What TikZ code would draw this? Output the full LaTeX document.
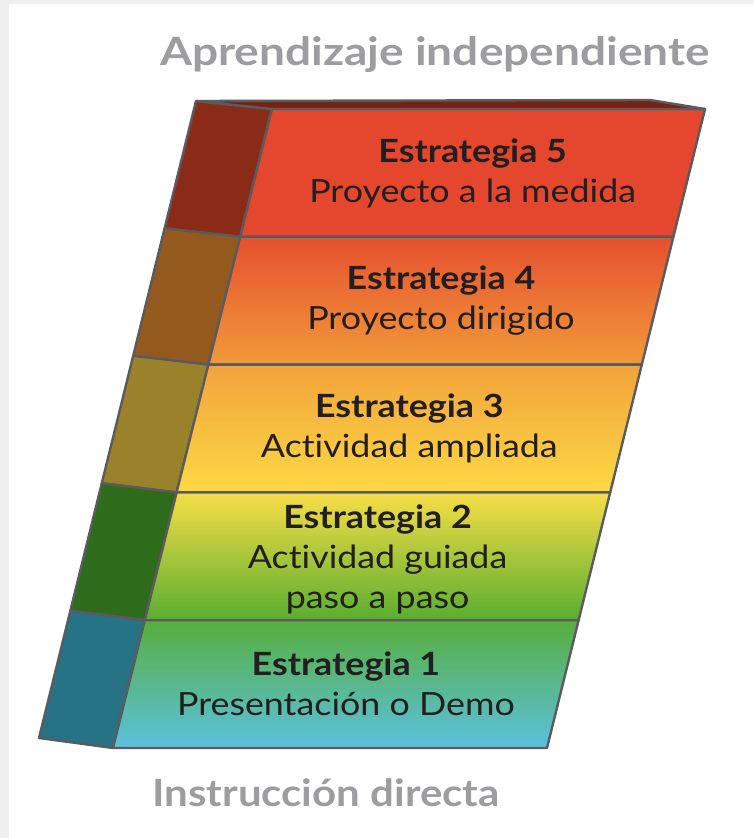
\documentclass[tikz,border=0pt]{standalone}
\usepackage{fontspec}
\setmainfont{Lato}[FakeStretch=1.12,RawFeature={-liga;-dlig}]
\usetikzlibrary{calc}

\definecolor{bggray}{HTML}{EFEFEF}
\definecolor{linecol}{HTML}{5B5B5F}
\definecolor{txtcol}{HTML}{231F20}
\definecolor{titlecol}{HTML}{9C9CA1}
\definecolor{topface}{HTML}{7A2212}
\definecolor{sidefive}{HTML}{8A2B17}
\definecolor{sidefour}{HTML}{945A1D}
\definecolor{sidethree}{HTML}{9A822B}
\definecolor{sidetwo}{HTML}{2E6B1B}
\definecolor{sideone}{HTML}{277386}

\begin{document}
\begin{tikzpicture}[x=1pt,y=-1pt,
  face/.style={draw=linecol,line width=2.4pt,line join=round},
  rowtext/.style={align=center,text=txtcol,font=\fontsize{32}{40}\selectfont},
  headtext/.style={text=titlecol,font=\fontsize{37.5}{44}\selectfont\bfseries}]

\useasboundingbox (0,0) rectangle (753,838);
\fill[bggray] (0,0) rectangle (753,838);
\fill[white] (9,4) rectangle (753,838);

% outer edge of the side
\coordinate (s0) at (196,101);
\coordinate (s1) at (164.6,228.4);
\coordinate (s2) at (133.2,355.8);
\coordinate (s3) at (101.8,483.2);
\coordinate (s4) at (70.4,610.6);
\coordinate (s5) at (39,738);
% front, left edge
\coordinate (l0) at (272,109);
\coordinate (l1) at (240.2,236.8);
\coordinate (l2) at (208.4,364.6);
\coordinate (l3) at (176.6,492.4);
\coordinate (l4) at (144.8,620.2);
\coordinate (l5) at (113,748);
% front, right edge
\coordinate (r0) at (705,109);
\coordinate (r1) at (673.4,236.8);
\coordinate (r2) at (641.8,364.6);
\coordinate (r3) at (610.2,492.4);
\coordinate (r4) at (578.6,620.2);
\coordinate (r5) at (547,748);
\coordinate (b0) at (650,100);

% side
\draw[face,fill=sidefive] (s0)--(s1)--(l1)--(l0)--cycle;
\draw[face,fill=sidefour] (s1)--(s2)--(l2)--(l1)--cycle;
\draw[face,fill=sidethree] (s2)--(s3)--(l3)--(l2)--cycle;
\draw[face,fill=sidetwo] (s3)--(s4)--(l4)--(l3)--cycle;
\draw[face,fill=sideone] (s4)--(s5)--(l5)--(l4)--cycle;

% front
\draw[face,fill={rgb,255:red,228;green,71;blue,46}] (l0)--(r0)--(r1)--(l1)--cycle;
\draw[face,top color={rgb,255:red,230;green,80;blue,47},bottom color={rgb,255:red,241;green,154;blue,58}] (l1)--(r1)--(r2)--(l2)--cycle;
\draw[face,top color={rgb,255:red,243;green,163;blue,59},bottom color={rgb,255:red,252;green,217;blue,69}] (l2)--(r2)--(r3)--(l3)--cycle;
\draw[face,top color={rgb,255:red,247;green,222;blue,71},bottom color={rgb,255:red,90;green,174;blue,47}] (l3)--(r3)--(r4)--(l4)--cycle;
\draw[face,top color={rgb,255:red,87;green,174;blue,60},bottom color={rgb,255:red,91;green,193;blue,223}] (l4)--(r4)--(r5)--(l5)--cycle;

% top
\draw[face,fill=topface] (s0)--(b0)--(r0)--(l0)--cycle;

\node[rowtext] (e5) at ($(l0)!0.5!(r1)$) {\textbf{Estrategia 5}\\Proyecto a la medida};
\node[rowtext] (e4) at ($(l1)!0.5!(r2)$) {\textbf{Estrategia 4}\\Proyecto dirigido};
\node[rowtext] (e3) at ($(l2)!0.5!(r3)$) {\textbf{Estrategia 3}\\Actividad ampliada};
\node[rowtext] (e2) at ($(l3)!0.5!(r4)+(0,3)$) {\textbf{Estrategia 2}\\Actividad guiada\\paso a paso};
\node[rowtext] (e1) at ($(l4)!0.5!(r5)$) {\textbf{Estrategia 1}\\Presentación o Demo};

\node[headtext,font=\fontsize{39}{44}\selectfont\bfseries\addfontfeature{FakeStretch=1.18}] (alto) at (435,55) {Aprendizaje independiente};
\node[headtext] (bajo) at (326,793) {Instrucción directa};
\end{tikzpicture}
\end{document}
